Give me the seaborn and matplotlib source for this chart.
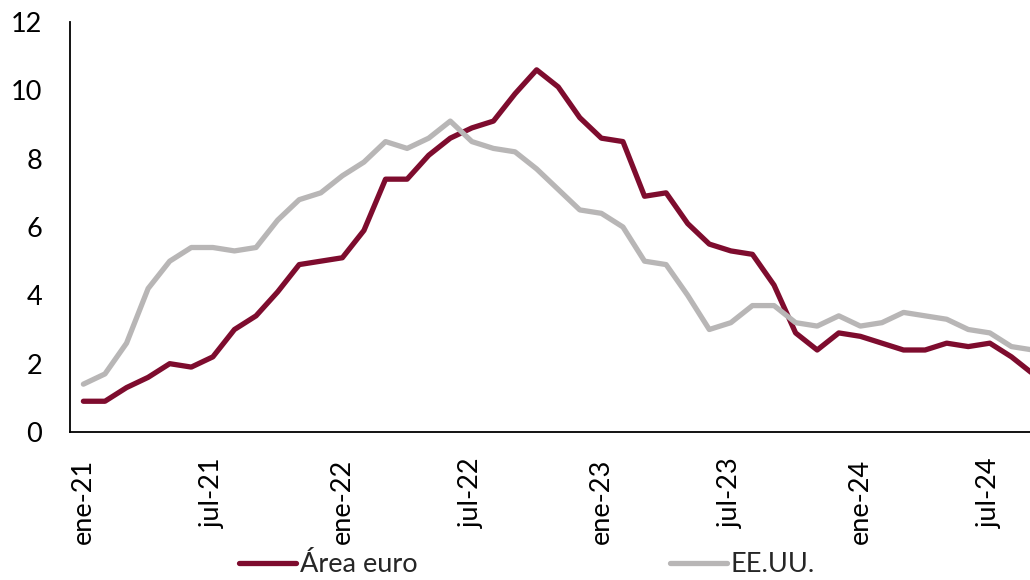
import pandas as pd
import numpy as np
import matplotlib
matplotlib.use("Agg")
import matplotlib.pyplot as plt
import seaborn as sns

# Monthly inflation (% y/y), ene-21 .. sep-24
area_euro = [0.9, 0.9, 1.3, 1.6, 2.0, 1.9, 2.2, 3.0, 3.4, 4.1, 4.9, 5.0,
             5.1, 5.9, 7.4, 7.4, 8.1, 8.6, 8.9, 9.1, 9.9, 10.6, 10.1, 9.2,
             8.6, 8.5, 6.9, 7.0, 6.1, 5.5, 5.3, 5.2, 4.3, 2.9, 2.4, 2.9,
             2.8, 2.6, 2.4, 2.4, 2.6, 2.5, 2.6, 2.2, 1.7]
ee_uu = [1.4, 1.7, 2.6, 4.2, 5.0, 5.4, 5.4, 5.3, 5.4, 6.2, 6.8, 7.0,
         7.5, 7.9, 8.5, 8.3, 8.6, 9.1, 8.5, 8.3, 8.2, 7.7, 7.1, 6.5,
         6.4, 6.0, 5.0, 4.9, 4.0, 3.0, 3.2, 3.7, 3.7, 3.2, 3.1, 3.4,
         3.1, 3.2, 3.5, 3.4, 3.3, 3.0, 2.9, 2.5, 2.4]
tick_labels = ["ene-21", "jul-21", "ene-22", "jul-22", "ene-23", "jul-23", "ene-24", "jul-24"]
series_names = ["Área euro", "EE.UU."]
colors = ["#7E0C2E", "#B8B6B6"]

df = pd.DataFrame({
    "mes": list(range(len(area_euro))) * 2,
    "valor": area_euro + ee_uu,
    "serie": [series_names[0]] * len(area_euro) + [series_names[1]] * len(ee_uu),
})

sns.set_style("white")
plt.rcParams["font.family"] = ["Lato", "DejaVu Sans"]

fig = plt.figure(figsize=(10.3, 5.8), dpi=100)
ax = fig.add_axes([70 / 1030, 1 - 432 / 580, 960 / 1030, 410 / 580])

sns.lineplot(data=df, x="mes", y="valor", hue="serie", palette=colors,
             hue_order=series_names, linewidth=3.8, ax=ax, legend=False)

ax.set_xlim(-0.62, 43.86)
ax.set_ylim(0, 12)
ax.set_yticks(range(0, 13, 2))
ax.set_xticks(range(0, 43, 6))
ax.set_xticklabels(tick_labels, rotation=90)
ax.tick_params(axis="both", labelsize=19.5, length=0, colors="black")
ax.tick_params(axis="y", pad=20)
ax.tick_params(axis="x", pad=19)
ax.set_xlabel("")
ax.set_ylabel("")
sns.despine(ax=ax)
for s in ["left", "bottom"]:
    ax.spines[s].set_color("black")
    ax.spines[s].set_linewidth(1.3)

handles = [plt.Line2D([], [], color=c, linewidth=3.8) for c in colors]
fig.legend(handles, series_names, loc="center", bbox_to_anchor=(527 / 1030, 1 - 565 / 580),
           ncol=2, frameon=False, fontsize=19.5, handlelength=2.1, handletextpad=0.15,
           columnspacing=9.3, borderaxespad=0, borderpad=0)

fig.savefig("out.png", dpi=100)
